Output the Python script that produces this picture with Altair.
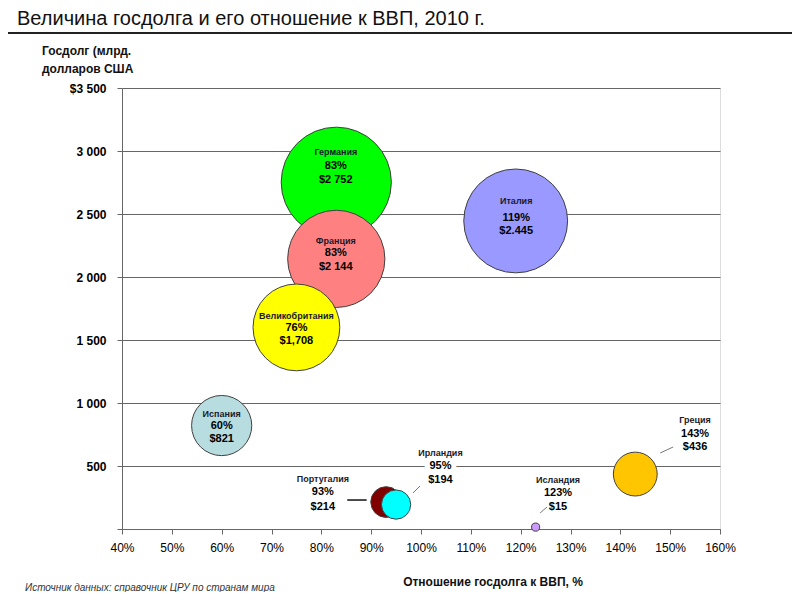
import altair as alt
import pandas as pd

# ---- data ----
countries = ["Германия", "Франция", "Великобритания", "Италия", "Испания",
             "Португалия", "Ирландия", "Греция", "Исландия"]
debt_gdp = [83, 83, 75, 119, 60, 93, 95, 143, 123]           # % of GDP (bubble x)
debt_usd = [2752, 2144, 1708, 2445, 821, 214, 194, 436, 15]  # bn USD (bubble size)
bubble_y = [2752, 2144, 1600, 2445, 821, 214, 194, 436, 15]  # bubble y as drawn
pct_text = ["83%", "83%", "76%", "119%", "60%", "93%", "95%", "143%", "123%"]
usd_text = ["$2 752", "$2 144", "$1,708", "$2.445", "$821", "$214", "$194", "$436", "$15"]
colors = ["#00FF00", "#FF8080", "#FFFF00", "#9999FF", "#B7DDE0",
          "#800000", "#00FFFF", "#FFC600", "#CC99FF"]
label_bg = [False, False, False, False, False, False, True, False, False]

# label anchors (data coordinates)
label_x = [82.9, 82.9, 75.0, 119.1, 60.0, 80.3, 103.9, 155.0, 127.5]
name_y = [2992, 2286, 1691, 2603, 913, 397, 603, 865, 389]
pct_y = [2881, 2191, 1595, 2468, 818, 294, 500, 754, 286]
usd_y = [2770, 2079, 1492, 2365, 715, 175, 389, 650, 175]

# leader lines for the outside labels (data coordinates)
leader_x1 = [85.2, 98.4, 148.0, 123.9]
leader_x2 = [89.1, 99.8, 150.6, 125.3]
leader_y1 = [230, 286, 603, 127]
leader_y2 = [230, 341, 651, 175]
leader_w = [1.5, 1, 1, 1]
leader_c = ["#111111", "#777777", "#777777", "#777777"]

x_ticks = list(range(40, 161, 10))
y_ticks = list(range(0, 3501, 500))

df = pd.DataFrame({
    "country": countries, "ratio": debt_gdp, "debt": debt_usd, "by": bubble_y,
    "pct": pct_text, "usd": usd_text, "color": colors, "bg": label_bg,
    "lx": label_x, "ny": name_y, "py": pct_y, "uy": usd_y,
    "idx": list(range(len(countries))),
})
leaders = pd.DataFrame({"x1": leader_x1, "x2": leader_x2, "y1": leader_y1,
                        "y2": leader_y2, "w": leader_w, "c": leader_c})

FONT = "Liberation Sans"

xs = alt.Scale(domain=[40, 160], nice=False, zero=False)
ys = alt.Scale(domain=[0, 3500], nice=False)

base = alt.Chart(df)

bubbles = base.mark_point(filled=True, opacity=1, stroke="#404040",
                          strokeWidth=1, shape="circle").encode(
    x=alt.X("ratio:Q", scale=xs, axis=alt.Axis(
        values=x_ticks, labelExpr="datum.value + '%'", grid=False,
        labelOverlap=False, labelFlush=False,
        domainColor="#666", tickColor="#666", tickSize=5,
        labelFont=FONT, labelFontSize=12, labelColor="#000",
        labelPadding=8, title=None)),
    y=alt.Y("by:Q", scale=ys, axis=alt.Axis(
        values=y_ticks, labelOverlap=False, labelFlush=False,
        labelExpr="datum.value == 0 ? '' : (datum.value == 3500 ? '$3 500' : replace(format(datum.value, ','), ',', ' '))",
        grid=True, gridColor="#666", gridWidth=1,
        domainColor="#666", tickColor="#666", tickSize=5,
        labelFont=FONT, labelFontSize=12, labelFontWeight="bold",
        labelColor="#000", labelPadding=11, title=None)),
    size=alt.Size("debt:Q", scale=alt.Scale(domain=[0, 3500], range=[0, 15435]),
                  legend=None),
    color=alt.Color("color:N", scale=None),
    order=alt.Order("idx:Q"),
)

# white halo behind the label that sits on a gridline
halo = base.transform_filter("datum.bg").mark_text(
    font=FONT, fontSize=11, fontWeight="bold", color="white",
    stroke="white", strokeWidth=10, baseline="middle").encode(
    x=alt.X("lx:Q", scale=xs), y=alt.Y("py:Q", scale=ys), text="pct:N")

names = base.mark_text(font=FONT, fontSize=9, fontWeight="bold",
                       color="#1a1a2a", baseline="middle").encode(
    x=alt.X("lx:Q", scale=xs), y=alt.Y("ny:Q", scale=ys), text="country:N")
pcts = base.mark_text(font=FONT, fontSize=11, fontWeight="bold",
                      color="#000", baseline="middle").encode(
    x=alt.X("lx:Q", scale=xs), y=alt.Y("py:Q", scale=ys), text="pct:N")
usds = base.mark_text(font=FONT, fontSize=11, fontWeight="bold",
                      color="#000", baseline="middle").encode(
    x=alt.X("lx:Q", scale=xs), y=alt.Y("uy:Q", scale=ys), text="usd:N")

lead = alt.Chart(leaders).mark_rule().encode(
    x=alt.X("x1:Q", scale=xs), x2="x2:Q",
    y=alt.Y("y1:Q", scale=ys), y2="y2:Q",
    strokeWidth=alt.StrokeWidth("w:Q", scale=None),
    color=alt.Color("c:N", scale=None),
)

one = pd.DataFrame({"a": [0]})
title = alt.Chart(one).mark_text(
    text="Величина госдолга и его отношение к ВВП, 2010 г.", font=FONT,
    fontSize=20, color="#111", align="left", baseline="middle").encode(
    x=alt.value(-105), y=alt.value(-69))
title_rule = alt.Chart(one).mark_rule(color="#222", strokeWidth=2).encode(
    x=alt.value(-114), x2=alt.value(670), y=alt.value(-55))
ytitle = alt.Chart(one).mark_text(
    text="Госдолг (млрд.\nдолларов США", lineBreak="\n", lineHeight=18,
    font=FONT, fontSize=12, fontWeight="bold", color="#111",
    align="left", baseline="middle").encode(
    x=alt.value(-80), y=alt.value(-37))
xtitle = alt.Chart(one).mark_text(
    text="Отношение госдолга к ВВП, %", font=FONT, fontSize=12,
    fontWeight="bold", color="#111", align="center", baseline="middle").encode(
    x=alt.value(371), y=alt.value(494))
source = alt.Chart(one).mark_text(
    text="Источник данных: справочник ЦРУ по странам мира", font=FONT,
    fontSize=10, fontStyle="italic", color="#333", align="left",
    baseline="middle").encode(x=alt.value(-97), y=alt.value(500))

chart = alt.layer(bubbles, lead, halo, names, pcts, usds, title, title_rule,
                  ytitle, xtitle, source).properties(
    width=598, height=441, autosize="none",
    padding={"left": 114, "top": 80, "right": 72, "bottom": 63},
).configure_view(stroke=None).configure(background="white")

chart.save("out.html", embed_options={"renderer": "svg", "actions": False})
